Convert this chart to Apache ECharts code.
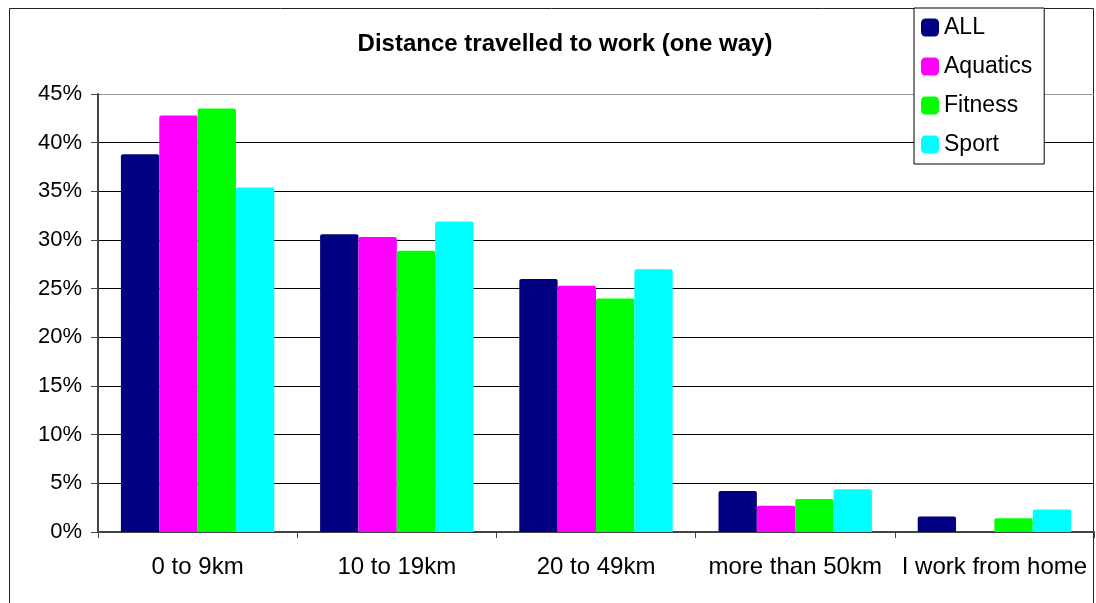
<!DOCTYPE html>
<html>
<head>
<meta charset="utf-8">
<script src="https://cdn.jsdelivr.net/npm/echarts@6/dist/echarts.min.js"></script>
<style>
  html, body { margin: 0; padding: 0; background: #fff; }
  #chart { width: 1096px; height: 603px; }
</style>
</head>
<body>
<div id="chart"></div>
<script>
// values (percent)
const categories = ["0 to 9km", "10 to 19km", "20 to 49km", "more than 50km", "I work from home"];
const allValues = [38.8, 30.6, 26.0, 4.2, 1.6];
const aquaticsValues = [42.8, 30.3, 25.3, 2.7, 0];
const fitnessValues = [43.5, 28.9, 24.0, 3.4, 1.4];
const sportValues = [35.4, 31.9, 27.0, 4.4, 2.3];
const yTicks = [0, 5, 10, 15, 20, 25, 30, 35, 40, 45];

const FONT = "Liberation Sans, Arial, sans-serif";

const seriesDefs = [
  { name: "ALL", data: allValues, color: "#000080" },
  { name: "Aquatics", data: aquaticsValues, color: "#ff00ff" },
  { name: "Fitness", data: fitnessValues, color: "#00ff00" },
  { name: "Sport", data: sportValues, color: "#00ffff" },
];

const chart = echarts.init(document.getElementById("chart"), null, { renderer: "canvas" });

chart.setOption({
  animation: false,
  textStyle: { fontFamily: FONT },
  title: {
    text: "Distance travelled to work (one way)",
    left: 560,
    top: 27,
    textAlign: "center",
    textStyle: { fontFamily: FONT, fontSize: 24, fontWeight: "bold", color: "#000" },
  },
  graphic: [
    {
      type: "rect",
      shape: { x: 9.5, y: 8.5, width: 1084, height: 610 },
      style: { fill: "none", stroke: "#222", lineWidth: 1 },
      z: 0,
    },
  ],
  legend: {
    orient: "vertical",
    left: 914,
    top: 8,
    padding: [8, 12, 8, 7],
    itemWidth: 18,
    itemHeight: 18,
    itemGap: 16,
    icon: "roundRect",
    backgroundColor: "#fff",
    borderColor: "#000",
    borderWidth: 1,
    textStyle: { fontFamily: FONT, fontSize: 23, color: "#000" },
    z: 10,
  },
  grid: { left: 98, right: 2, top: 94, bottom: 71, containLabel: false },
  xAxis: {
    type: "category",
    data: categories,
    axisLine: { lineStyle: { color: "#444", width: 2 } },
    axisTick: { show: true, length: 6, lineStyle: { color: "#444" } },
    axisLabel: { fontFamily: FONT, fontSize: 24, color: "#000", margin: 23, interval: 0 },
  },
  yAxis: {
    type: "value",
    min: 0,
    max: yTicks[yTicks.length - 1],
    interval: 5,
    axisLine: { show: true, lineStyle: { color: "#444", width: 2 } },
    axisTick: { show: true, length: 7, lineStyle: { color: "#444" } },
    axisLabel: {
      fontFamily: FONT,
      fontSize: 22,
      color: "#000",
      margin: 16,
      formatter: (v) => v + "%",
    },
    splitLine: {
      lineStyle: {
        color: yTicks.map((t) => (t === 45 ? "#999" : "#000")),
        width: 1,
      },
    },
  },
  series: seriesDefs.map((s) => ({
    name: s.name,
    type: "bar",
    data: s.data,
    barGap: "0%",
    barCategoryGap: "23%",
    itemStyle: { color: s.color, borderRadius: [2, 2, 0, 0] },
  })),
});
</script>
</body>
</html>
